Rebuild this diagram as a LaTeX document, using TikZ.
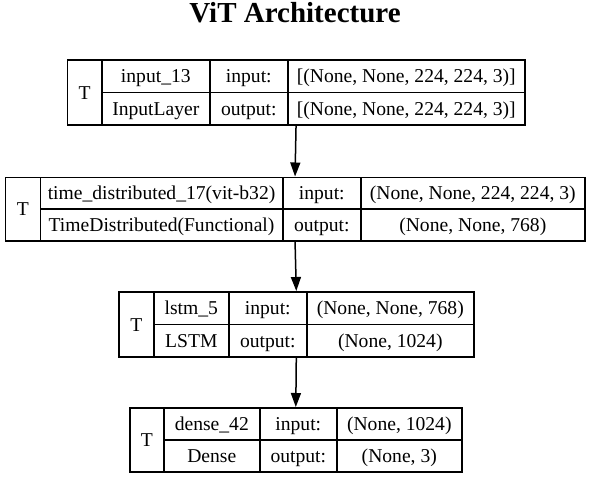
\documentclass[tikz,border=0pt]{standalone}
\usepackage{fontspec}
\setmainfont{Liberation Serif}
\usetikzlibrary{arrows.meta}
\begin{document}
\begin{tikzpicture}[x=1pt,y=-1pt,%
% common options for the table cells:
cell/.style = {draw, line width=1.6pt, anchor=north west, inner sep=0,
            text height=13.5pt, text depth=0pt, font=\fontsize{19.6}{21}\selectfont},
% common options for the layer frames:
layer/.style = {draw, line width=1.6pt, anchor=north west, inner sep=0},
% common options for the arrows:
flow/.style = {-{Triangle[length=14pt,width=10pt]}, line width=1.5pt}]
\useasboundingbox (0,0) rectangle (590,477);
\node[anchor=base,font=\bfseries\fontsize{29}{31}\selectfont] (title) at (295,22.5) {ViT Architecture};
% input layer
\node[layer,minimum width=457.5pt,minimum height=65pt] (L1) at (66.5,59) {};
\node[cell,minimum width=34.5pt,minimum height=65pt] (T1) at (66.5,59) {T};
\node[cell,minimum width=108pt,minimum height=32.5pt] (N1) at (101,59) {input\_13};
\node[cell,minimum width=108pt,minimum height=32.5pt] (C1) at (101,91.5) {InputLayer};
\node[cell,minimum width=78pt,minimum height=32.5pt] (I1) at (209,59) {input:};
\node[cell,minimum width=78pt,minimum height=32.5pt] (O1) at (209,91.5) {output:};
\node[cell,minimum width=237pt,minimum height=32.5pt] (IS1) at (287,59) {[(None, None, 224, 224, 3)]};
\node[cell,minimum width=237pt,minimum height=32.5pt] (OS1) at (287,91.5) {[(None, None, 224, 224, 3)]};
% time distributed layer
\node[layer,minimum width=579.5pt,minimum height=63.5pt] (L2) at (4.5,176.5) {};
\node[cell,minimum width=35pt,minimum height=63.5pt] (T2) at (4.5,176.5) {T};
\node[cell,minimum width=242.5pt,minimum height=31.75pt] (N2) at (39.5,176.5) {time\_distributed\_17(vit-b32)};
\node[cell,minimum width=242.5pt,minimum height=31.75pt] (C2) at (39.5,208.25) {TimeDistributed(Functional)};
\node[cell,minimum width=78pt,minimum height=31.75pt] (I2) at (282,176.5) {input:};
\node[cell,minimum width=78pt,minimum height=31.75pt] (O2) at (282,208.25) {output:};
\node[cell,minimum width=224pt,minimum height=31.75pt] (IS2) at (360,176.5) {(None, None, 224, 224, 3)};
\node[cell,minimum width=224pt,minimum height=31.75pt] (OS2) at (360,208.25) {(None, None, 768)};
% lstm layer
\node[layer,minimum width=355pt,minimum height=65pt] (L3) at (118,291) {};
\node[cell,minimum width=35pt,minimum height=65pt] (T3) at (118,291) {T};
\node[cell,minimum width=75pt,minimum height=32.5pt] (N3) at (153,291) {lstm\_5};
\node[cell,minimum width=75pt,minimum height=32.5pt] (C3) at (153,323.5) {LSTM};
\node[cell,minimum width=78pt,minimum height=32.5pt] (I3) at (228,291) {input:};
\node[cell,minimum width=78pt,minimum height=32.5pt] (O3) at (228,323.5) {output:};
\node[cell,minimum width=167pt,minimum height=32.5pt] (IS3) at (306,291) {(None, None, 768)};
\node[cell,minimum width=167pt,minimum height=32.5pt] (OS3) at (306,323.5) {(None, 1024)};
% dense layer
\node[layer,minimum width=332pt,minimum height=64pt] (L4) at (129,407) {};
\node[cell,minimum width=34pt,minimum height=64pt] (T4) at (129,407) {T};
\node[cell,minimum width=96pt,minimum height=32pt] (N4) at (163,407) {dense\_42};
\node[cell,minimum width=96pt,minimum height=32pt] (C4) at (163,439) {Dense};
\node[cell,minimum width=77pt,minimum height=32pt] (I4) at (259,407) {input:};
\node[cell,minimum width=77pt,minimum height=32pt] (O4) at (259,439) {output:};
\node[cell,minimum width=125pt,minimum height=32pt] (IS4) at (336,407) {(None, 1024)};
\node[cell,minimum width=125pt,minimum height=32pt] (OS4) at (336,439) {(None, 3)};
\draw[flow] (L1.south) to (L2.north);
\draw[flow] (L2.south) to (L3.north);
\draw[flow] (L3.south) to (L4.north);
\end{tikzpicture}
\end{document}
